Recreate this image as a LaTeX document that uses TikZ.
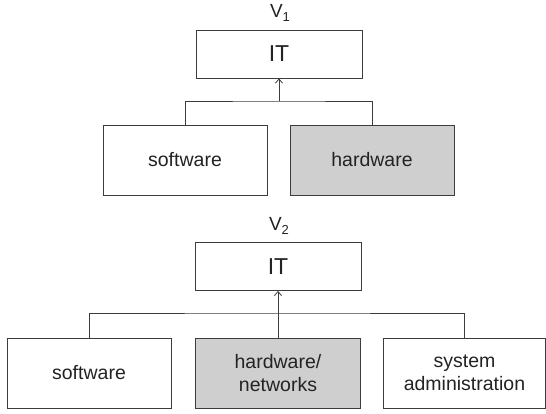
\documentclass[tikz,border=0pt]{standalone}
\usepackage{fontspec}
\setmainfont{Liberation Sans}
\usetikzlibrary{arrows.meta}
\definecolor{boxgray}{RGB}{207,207,207}
\definecolor{linegray}{RGB}{60,60,60}
\definecolor{textgray}{RGB}{35,35,35}
\tikzset{
  unit/.style={draw=linegray, line width=0.9pt, fill=white, inner sep=0pt, align=center,
    text=textgray, font=\fontsize{19.5}{23}\selectfont},
  itbox/.style={unit, minimum width=166pt, minimum height=48pt, font=\fontsize{23}{27}\selectfont},
  lowbox/.style={unit, minimum height=70pt},
  shaded/.style={fill=boxgray},
  link/.style={draw=linegray, line width=0.9pt},
  uparrow/.style={link, -{Straight Barb[length=4pt,width=7pt,line width=0.8pt]}},
  vlabel/.style={text=textgray, inner sep=0pt, font=\fontsize{19}{22}\selectfont}
}
\begin{document}
\begin{tikzpicture}[x=1pt,y=-1pt]
\useasboundingbox (0,0) rectangle (546,414);
% V1
\node[vlabel] (v1) at (280,13) {V\raisebox{-0.35ex}{\fontsize{13}{15}\selectfont 1}};
\node[itbox] (it1) at (279,54) {IT};
\node[lowbox, minimum width=164pt] (sw1) at (185,160) {software};
\node[lowbox, shaded, minimum width=164pt] (hw1) at (372,160) {hardware};
\coordinate (j1) at (279,101);
\draw[link] (sw1.north) |- (j1) -| (hw1.north);
\draw[uparrow] (j1) -- (it1.south);
% V2
\node[vlabel] (v2) at (279,226) {V\raisebox{-0.35ex}{\fontsize{13}{15}\selectfont 2}};
\node[itbox] (it2) at (278,266.5) {IT};
\node[lowbox, minimum width=164pt] (sw2) at (89,373) {software};
\node[lowbox, shaded, minimum width=165pt] (hn2) at (278,373) {hardware/\\networks};
\node[lowbox, minimum width=162pt] (sa2) at (464.5,373) {system\\administration};
\coordinate (j2) at (278,313);
\draw[link] (sw2.north) |- (j2) -| (sa2.north);
\draw[link] (hn2.north) -- (j2);
\draw[uparrow] (j2) -- (it2.south);
\end{tikzpicture}
\end{document}
